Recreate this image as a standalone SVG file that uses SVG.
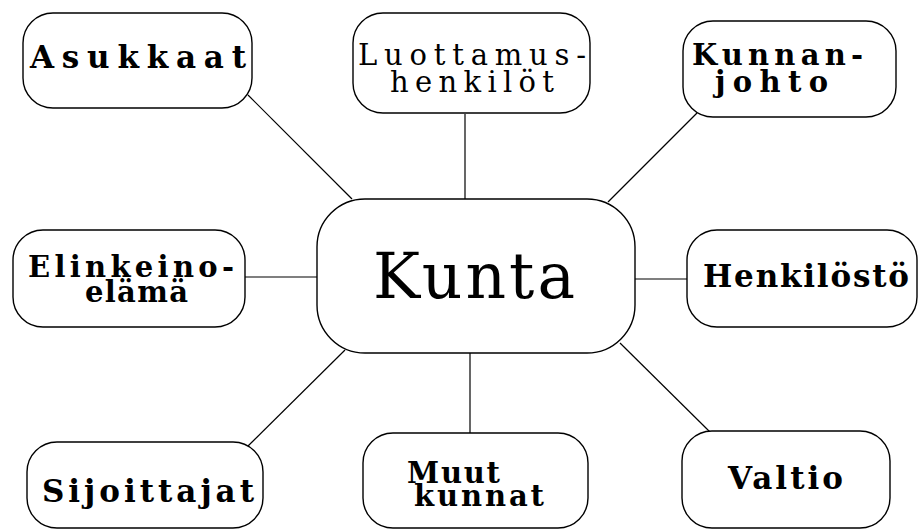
<svg xmlns="http://www.w3.org/2000/svg" width="919" height="532" viewBox="0 0 919 532">
  <style>
    .box { fill: #ffffff; stroke: #000000; stroke-width: 1.4; }
    .link { stroke: #000000; stroke-width: 1.2; fill: none; }
    .lbl { font-family: "DejaVu Serif", "Liberation Serif", serif; font-size: 31px; fill: #000000; font-weight: bold; }
    .two { font-size: 29px; }
    .thin { font-weight: normal; }
    .big { font-family: "DejaVu Serif", "Liberation Serif", serif; font-size: 63px; fill: #000000; }
  </style>
  <rect width="919" height="532" fill="#ffffff"/>

  <!-- spokes from the centre box to each surrounding box -->
  <g id="connectors">
    <line class="link" x1="248" y1="95" x2="352" y2="199"/>
    <line class="link" x1="465" y1="114" x2="465" y2="199"/>
    <line class="link" x1="697" y1="113" x2="608" y2="202"/>
    <line class="link" x1="245" y1="277" x2="317" y2="277"/>
    <line class="link" x1="635" y1="279" x2="687" y2="279"/>
    <line class="link" x1="248" y1="446" x2="345" y2="350"/>
    <line class="link" x1="470" y1="353" x2="470" y2="433"/>
    <line class="link" x1="620" y1="343" x2="710" y2="432"/>
  </g>

  <g id="kunta">
    <rect class="box" x="317" y="199" width="318" height="154" rx="48" ry="48"/>
    <text class="big" x="373" y="298" textLength="202" lengthAdjust="spacing">Kunta</text>
  </g>

  <g id="asukkaat">
    <rect class="box" x="23" y="13" width="229" height="95" rx="30" ry="30"/>
    <text class="lbl" x="30" y="68" font-size="32" textLength="216" lengthAdjust="spacing">Asukkaat</text>
  </g>

  <g id="luottamushenkilot">
    <rect class="box" x="353" y="13" width="237" height="100" rx="30" ry="30"/>
    <text class="lbl two thin" x="358" y="65" textLength="228" lengthAdjust="spacing">Luottamus-</text>
    <text class="lbl two thin" x="390" y="92" textLength="164" lengthAdjust="spacing">henkilöt</text>
  </g>

  <g id="kunnanjohto">
    <rect class="box" x="683" y="21" width="213" height="96" rx="30" ry="30"/>
    <text class="lbl two" x="692" y="65" textLength="171" lengthAdjust="spacing">Kunnan-</text>
    <text class="lbl two" x="715" y="92" textLength="113" lengthAdjust="spacing">johto</text>
  </g>

  <g id="elinkeinoelama">
    <rect class="box" x="13" y="230" width="232" height="97" rx="30" ry="30"/>
    <text class="lbl two" x="28" y="277" textLength="206" lengthAdjust="spacing">Elinkeino-</text>
    <text class="lbl two" x="85" y="302" textLength="103" lengthAdjust="spacing">elämä</text>
  </g>

  <g id="henkilosto">
    <rect class="box" x="687" y="230" width="230" height="97" rx="30" ry="30"/>
    <text class="lbl" x="703" y="287" textLength="206" lengthAdjust="spacing">Henkilöstö</text>
  </g>

  <g id="sijoittajat">
    <rect class="box" x="27" y="442" width="236" height="86" rx="30" ry="30"/>
    <text class="lbl" x="42" y="502" textLength="212" lengthAdjust="spacing">Sijoittajat</text>
  </g>

  <g id="muutkunnat">
    <rect class="box" x="363" y="433" width="225" height="95" rx="30" ry="30"/>
    <text class="lbl two" x="407" y="483" textLength="93" lengthAdjust="spacing">Muut</text>
    <text class="lbl two" x="414" y="506" textLength="130" lengthAdjust="spacing">kunnat</text>
  </g>

  <g id="valtio">
    <rect class="box" x="682" y="431" width="208" height="97" rx="30" ry="30"/>
    <text class="lbl" x="728" y="489" textLength="115" lengthAdjust="spacing">Valtio</text>
  </g>
</svg>
